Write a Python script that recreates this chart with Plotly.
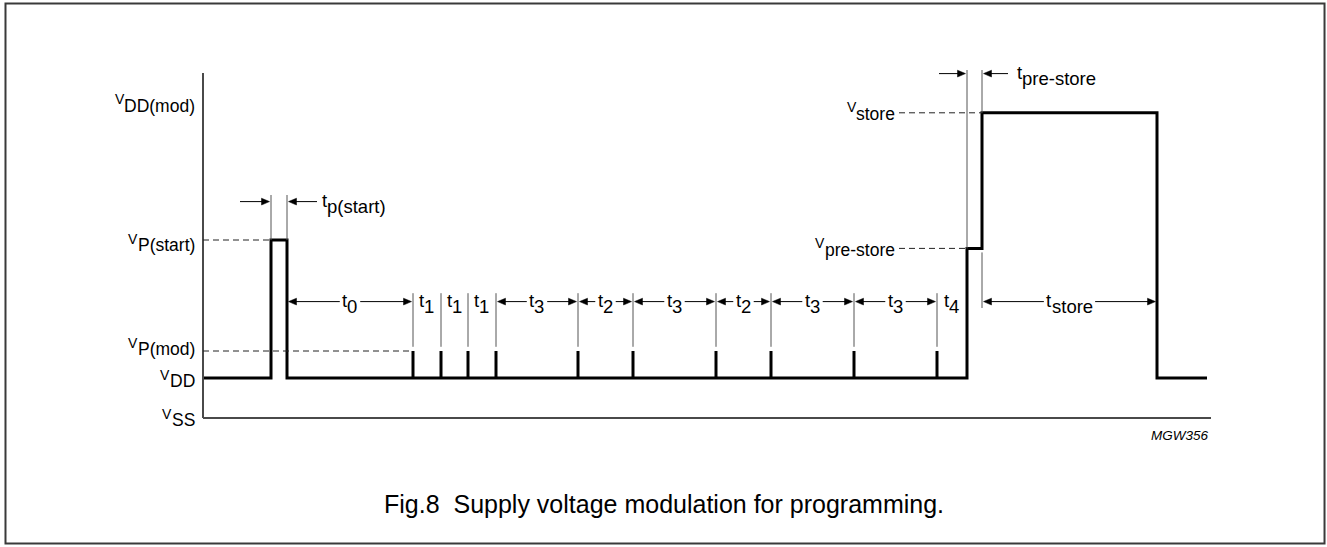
import plotly.graph_objects as go

# ---------------- data ----------------
# voltage levels (arbitrary units, V_SS = 0, V_DD = 1)
V_SS = 0.0
V_DD = 1.0
V_P_MOD = 1.675
V_P_START = 4.45
V_PRE_STORE = 4.24
V_STORE = 7.63
V_DD_MOD = 7.85

# left-hand level labels (subscripts of V) and their levels
left_label_subs = ["DD(mod)", "P(start)", "P(mod)", "DD", "SS"]
left_label_levels = [V_DD_MOD, V_P_START, V_P_MOD, V_DD, V_SS]

# right-hand store level labels
store_label_subs = ["pre-store", "store"]
store_label_levels = [V_PRE_STORE, V_STORE]

# timing (arbitrary time units)
t_start_rise = 68
t_start_fall = 84
mod_pulse_times = [210, 238, 265, 293, 375, 430, 513, 568, 651, 734]
t_pre_store = 764
t_store = 779
t_store_end = 954
t_end = 1004

# interval labels between boundaries (t_start_fall, pulses..., t_pre_store)
interval_subs = ["0", "1", "1", "1", "3", "2", "3", "2", "3", "3", "4"]
interval_arrows = [True, False, False, False, True, True, True, True, True, True, False]

# ---------------- styles ----------------
FONT = "Liberation Sans, Arial, sans-serif"
X_RANGE = [-10, 1018]
Y_RANGE = [-0.5, 9.45]
PX_PER_Y = 40.0          # pixels per y unit (x: 1 px per unit)
AXIS_TOP = 8.625
AXIS_RIGHT = 1008
AXIS_COLOR = "#4a4a4a"
THIN = dict(color="#555555", width=1)
DASH = dict(color="#222222", width=1, dash="6px,4px")
ROW_Y = 2.91             # y of interval arrows
THIN_TOP, THIN_BOT = 3.12, 1.78
TP_TOP = 5.575
PRE_TOP = 8.7
TP_Y = 5.41
TPS_Y = 8.61
STORE_LABEL_X = 696

T_FS = 18.5              # t labels
V_FS = 14.0              # the "V" of voltage labels
SUB_FS = 17.5            # voltage label subscripts
MID_K = (0.905 - 0.212) / 2   # bbox centre above baseline, in em

HEAD_LEN = 8.0
HEAD_HALF = 3.4
TIP_GAP = 1.5
TEXT_GAP = 2.5

# Arial / Liberation Sans advance widths (1/1000 em)
CW = {'t': 278, 'p': 556, 's': 500, 'a': 556, 'r': 333, 'e': 556, 'o': 556,
      '(': 333, ')': 333, '-': 333, '0': 556, '1': 556, '2': 556, '3': 556,
      '4': 556, 'D': 722, 'M': 833, 'P': 667, 'S': 667, 'd': 556, 'm': 833,
      'V': 667}


def tw(s, fs):
    return sum(CW[c] for c in s) * fs / 1000.0


fig = go.Figure()

# waveform (main)
wx = [0, t_start_rise, t_start_rise, t_start_fall, t_start_fall,
      t_pre_store, t_pre_store, t_store, t_store, t_store_end, t_store_end, t_end]
wy = [V_DD, V_DD, V_P_START, V_P_START, V_DD,
      V_DD, V_PRE_STORE, V_PRE_STORE, V_STORE, V_STORE, V_DD, V_DD]
fig.add_trace(go.Scatter(x=wx, y=wy, mode="lines",
                         line=dict(color="black", width=3),
                         hoverinfo="skip", showlegend=False))

# modulation pulses
px_, py_ = [], []
for p in mod_pulse_times:
    px_ += [p, p, None]
    py_ += [V_DD, V_P_MOD, None]
fig.add_trace(go.Scatter(x=px_, y=py_, mode="lines",
                         line=dict(color="black", width=3),
                         hoverinfo="skip", showlegend=False))

shapes = []
# axes
shapes.append(dict(type="line", xref="x", yref="y", x0=0, x1=0, y0=V_SS, y1=AXIS_TOP,
                   line=dict(color=AXIS_COLOR, width=2)))
shapes.append(dict(type="line", xref="x", yref="y", x0=0, x1=AXIS_RIGHT, y0=V_SS, y1=V_SS,
                   line=dict(color=AXIS_COLOR, width=2)))

# dashed level lines
shapes.append(dict(type="line", xref="x", yref="y", x0=0, x1=t_start_rise,
                   y0=V_P_START, y1=V_P_START, line=DASH))
shapes.append(dict(type="line", xref="x", yref="y", x0=0, x1=mod_pulse_times[0],
                   y0=V_P_MOD, y1=V_P_MOD, line=DASH))
for lvl, xe in zip(store_label_levels, [t_pre_store, t_store]):
    shapes.append(dict(type="line", xref="x", yref="y", x0=STORE_LABEL_X, x1=xe,
                       y0=lvl, y1=lvl, line=DASH))

# thin marker lines
for p in mod_pulse_times:
    shapes.append(dict(type="line", xref="x", yref="y", x0=p, x1=p,
                       y0=THIN_BOT, y1=THIN_TOP, line=THIN))
for xv in [t_start_rise, t_start_fall]:
    shapes.append(dict(type="line", xref="x", yref="y", x0=xv, x1=xv,
                       y0=V_P_START, y1=TP_TOP, line=THIN))
shapes.append(dict(type="line", xref="x", yref="y", x0=t_pre_store, x1=t_pre_store,
                   y0=V_PRE_STORE, y1=PRE_TOP, line=THIN))
shapes.append(dict(type="line", xref="x", yref="y", x0=t_store, x1=t_store,
                   y0=V_STORE, y1=PRE_TOP, line=THIN))
shapes.append(dict(type="line", xref="x", yref="y", x0=t_store, x1=t_store,
                   y0=V_PRE_STORE - 0.1, y1=2.75, line=THIN))

# outer frame
shapes.append(dict(type="rect", xref="paper", yref="paper",
                   x0=-0.1824, x1=1.1007, y0=-0.2651, y1=1.0917,
                   line=dict(color="#3a3a3a", width=2), fillcolor="rgba(0,0,0,0)"))


def arrow(head_x, tail_x, y):
    """horizontal arrow drawn with a line and a filled triangular head"""
    d = 1 if head_x > tail_x else -1
    tip = head_x - d * TIP_GAP
    back = tip - d * HEAD_LEN
    hh = HEAD_HALF / PX_PER_Y
    shapes.append(dict(type="line", xref="x", yref="y", x0=tail_x, x1=back + d * 1.0,
                       y0=y, y1=y, line=dict(color="black", width=1)))
    shapes.append(dict(type="path", xref="x", yref="y",
                       path="M %.2f,%.4f L %.2f,%.4f L %.2f,%.4f Z" % (tip, y, back, y + hh, back, y - hh),
                       fillcolor="black", line=dict(color="black", width=0.5)))


annotations = []


def text_ann(x, y, s, fs, xanchor="left", xshift=0.0, baseline_dy=0.0, italic=False,
             xref="x", yref="y"):
    """baseline_dy: pixels the text baseline sits below y"""
    annotations.append(dict(
        x=x, y=y, xref=xref, yref=yref, text=("<i>%s</i>" % s) if italic else s,
        showarrow=False, xanchor=xanchor, yanchor="middle", xshift=xshift,
        yshift=-(baseline_dy - MID_K * fs), borderpad=0, borderwidth=0,
        font=dict(family=FONT, size=fs, color="black")))


T_BASE_DY = 5.0      # baseline of "t" below arrow row
T_SUB_DY = 11.6      # baseline of subscript below arrow row


def t_label_left(x_left, y, sub):
    text_ann(x_left, y, "t", T_FS, "left", baseline_dy=T_BASE_DY)
    text_ann(x_left + tw("t", T_FS), y, sub, T_FS, "left", baseline_dy=T_SUB_DY)


# interval arrows + labels
bounds = [t_start_fall] + mod_pulse_times + [t_pre_store]
intervals = [(bounds[i], bounds[i + 1], s, a)
             for i, (s, a) in enumerate(zip(interval_subs, interval_arrows))]
intervals.append((t_store, t_store_end, "store", True))
for a, b, sub, has_arrow in intervals:
    mid = (a + b) / 2.0
    w = tw("t", T_FS) + tw(sub, T_FS)
    left = mid - w / 2.0
    if has_arrow:
        arrow(a, left - TEXT_GAP, ROW_Y)
        arrow(b, left + w + TEXT_GAP, ROW_Y)
    t_label_left(left, ROW_Y, sub)

# t_p(start)
arrow(t_start_rise, t_start_rise - 31, TP_Y)
arrow(t_start_fall, t_start_fall + 30, TP_Y)
t_label_left(t_start_fall + 35, TP_Y, "p(start)")

# t_pre-store
arrow(t_pre_store, t_pre_store - 28, TPS_Y)
arrow(t_store, t_store + 26, TPS_Y)
t_label_left(t_store + 34.5, TPS_Y, "pre-store")

# voltage labels: raised "V" followed by larger subscript
SUB_DY = [8.0, 11.5, 4.5, 9.5, 8.4]   # subscript baseline below level (px)
V_RAISE = 8.0                          # "V" baseline above subscript baseline
for sub, lvl, dy in zip(left_label_subs, left_label_levels, SUB_DY):
    text_ann(0, lvl, sub, SUB_FS, "right", xshift=-8, baseline_dy=dy)
    text_ann(0, lvl, "V", V_FS, "right", xshift=-8 - tw(sub, SUB_FS) + 0.5,
             baseline_dy=dy - V_RAISE)

for sub, lvl in zip(store_label_subs, store_label_levels):
    text_ann(STORE_LABEL_X, lvl, sub, SUB_FS, "right", xshift=-4, baseline_dy=7.5)
    text_ann(STORE_LABEL_X, lvl, "V", V_FS, "right", xshift=-4 - tw(sub, SUB_FS) + 0.5,
             baseline_dy=7.5 - V_RAISE)

# figure id
text_ann(AXIS_RIGHT, V_SS, "MGW356", 13.5, "right", xshift=-2, baseline_dy=22, italic=True)

# caption
annotations.append(dict(x=0.4577, y=-0.1658, xref="paper", yref="paper",
                        text="Fig.8  Supply voltage modulation for programming.",
                        showarrow=False, xanchor="center", yanchor="middle",
                        font=dict(family=FONT, size=25, color="black")))

fig.update_layout(
    width=1327, height=547,
    margin=dict(l=193, r=106, t=40, b=109),
    paper_bgcolor="white", plot_bgcolor="white",
    xaxis=dict(range=X_RANGE, visible=False, fixedrange=True),
    yaxis=dict(range=Y_RANGE, visible=False, fixedrange=True),
    shapes=shapes, annotations=annotations, showlegend=False,
)

fig.write_html("out.html", config={"displayModeBar": False, "staticPlot": True},
               post_script="document.body.style.margin='0';")
